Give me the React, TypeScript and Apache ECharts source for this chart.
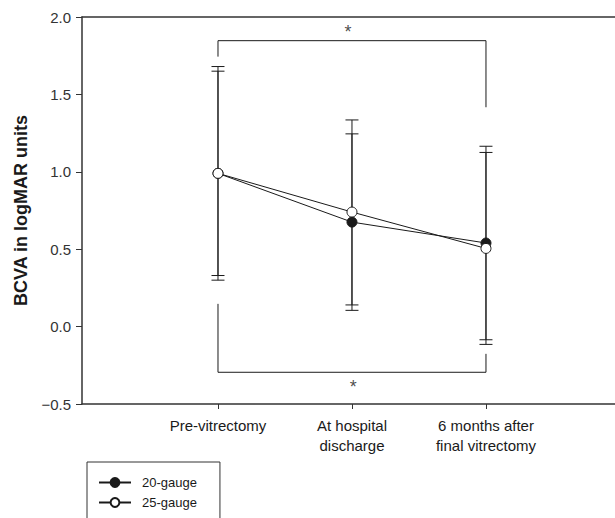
import React, { useEffect, useRef } from "react";
import * as echarts from "echarts";

const categories = ["Pre-vitrectomy", "At hospital\ndischarge", "6 months after\nfinal vitrectomy"];
const seriesNames = ["20-gauge", "25-gauge"];
const mean20 = [0.99, 0.675, 0.54];
const mean25 = [0.99, 0.74, 0.505];
const low20 = [0.3, 0.105, -0.085];
const high20 = [1.68, 1.245, 1.165];
const low25 = [0.33, 0.14, -0.115];
const high25 = [1.65, 1.335, 1.125];
const yTicks = [-0.5, 0, 0.5, 1.0, 1.5, 2.0];
const topBracket = [[1, 1.744], [1, 1.847], [3, 1.847], [3, 1.417]];
const bottomBracket = [[1, 0.147], [1, -0.295], [3, -0.295], [3, -0.176]];
const stars = [[1.97, 1.9], [2.01, -0.39]];

const FONT = "'Liberation Sans', Arial, sans-serif";
const INK = "#1a1a1a";

export default function App() {
  const ref = useRef<HTMLDivElement>(null);
  useEffect(() => {
    if (!ref.current) return;
    const chart = echarts.init(ref.current, undefined, { renderer: "svg" });
    const xs = [1, 2, 3];
    const errRender = (params: any, api: any) => {
      const x = api.value(0);
      const lo = api.coord([x, api.value(1)]);
      const hi = api.coord([x, api.value(2)]);
      const hw = 6.5;
      const st = { stroke: INK, lineWidth: 1 };
      return {
        type: "group",
        children: [
          { type: "line", shape: { x1: lo[0], y1: lo[1], x2: hi[0], y2: hi[1] }, style: st },
          { type: "line", shape: { x1: lo[0] - hw, y1: lo[1], x2: lo[0] + hw, y2: lo[1] }, style: st },
          { type: "line", shape: { x1: hi[0] - hw, y1: hi[1], x2: hi[0] + hw, y2: hi[1] }, style: st },
        ],
      };
    };
    chart.setOption({
      animation: false,
      textStyle: { fontFamily: FONT },
      grid: { left: 82, top: 17, width: 533, height: 387, containLabel: false },
      legend: {
        data: seriesNames,
        orient: "vertical",
        left: 87,
        top: 462,
        height: 40,
        padding: [14, 23, 20, 11],
        itemWidth: 32,
        itemHeight: 11,
        itemGap: 7,
        borderColor: "#333",
        borderWidth: 1,
        textStyle: { fontSize: 13, color: INK, fontFamily: FONT, padding: [0, 0, 0, 6] },
      },
      xAxis: [
        {
          type: "value",
          min: -0.015,
          max: 3.963,
          splitLine: { show: false },
          axisLine: { show: true, onZero: false, lineStyle: { color: "#333", width: 1.5 } },
          axisTick: { show: true, customValues: xs, length: 5, lineStyle: { color: "#333", width: 1 } },
          axisLabel: {
            customValues: xs,
            formatter: (v: number) => categories[Math.round(v) - 1] ?? "",
            fontSize: 15,
            lineHeight: 20,
            color: INK,
            margin: 11,
            fontFamily: FONT,
          },
        },
        {
          type: "value",
          position: "top",
          min: -0.015,
          max: 3.963,
          splitLine: { show: false },
          axisLine: { show: true, onZero: false, lineStyle: { color: "#333", width: 1.5 } },
          axisTick: { show: false },
          axisLabel: { show: false },
        },
      ],
      yAxis: {
        type: "value",
        min: -0.5,
        max: 2.0,
        interval: 0.5,
        name: "BCVA in logMAR units",
        nameLocation: "middle",
        nameGap: 51,
        nameTextStyle: { fontSize: 18, fontWeight: "bold", color: INK, fontFamily: FONT },
        splitLine: { show: false },
        axisLine: { show: true, onZero: false, lineStyle: { color: "#333", width: 1.5 } },
        axisTick: { show: true, length: 6, lineStyle: { color: "#333", width: 1 } },
        axisLabel: {
          fontSize: 15,
          color: "#333",
          margin: 11,
          fontFamily: FONT,
          customValues: yTicks,
          formatter: (v: number) => v.toFixed(1).replace("-", "\u2212"),
        },
      },
      series: [
        {
          type: "custom",
          name: "err20",
          renderItem: errRender,
          data: xs.map((x, i) => [x, low20[i], high20[i]]),
          encode: { x: 0, y: [1, 2] },
          z: 1,
          silent: true,
        },
        {
          type: "custom",
          name: "err25",
          renderItem: errRender,
          data: xs.map((x, i) => [x, low25[i], high25[i]]),
          encode: { x: 0, y: [1, 2] },
          z: 1,
          silent: true,
        },
        {
          type: "line",
          name: "bracketTop",
          data: topBracket,
          symbol: "none",
          lineStyle: { color: INK, width: 1 },
          z: 1,
          silent: true,
        },
        {
          type: "line",
          name: "bracketBottom",
          data: bottomBracket,
          symbol: "none",
          lineStyle: { color: INK, width: 1 },
          z: 1,
          silent: true,
        },
        {
          type: "scatter",
          name: "stars",
          data: stars,
          symbolSize: 1,
          itemStyle: { color: "rgba(0,0,0,0)" },
          label: { show: true, position: "inside", formatter: "*", fontSize: 18, color: INK, fontFamily: FONT },
          silent: true,
        },
        {
          type: "line",
          name: seriesNames[0],
          data: xs.map((x, i) => [x, mean20[i]]),
          symbol: "circle",
          symbolSize: 10,
          itemStyle: { color: INK, borderColor: INK, borderWidth: 1 },
          lineStyle: { color: INK, width: 1 },
          z: 3,
        },
        {
          type: "line",
          name: seriesNames[1],
          data: xs.map((x, i) => [x, mean25[i]]),
          symbol: "circle",
          symbolSize: 10,
          itemStyle: { color: "#ffffff", borderColor: INK, borderWidth: 1 },
          lineStyle: { color: INK, width: 1 },
          z: 4,
        },
      ],
    });
    return () => chart.dispose();
  }, []);
  return (
    <div
      ref={ref}
      style={{ position: "fixed", left: 0, top: 0, width: 615, height: 518, background: "#fff" }}
    />
  );
}
